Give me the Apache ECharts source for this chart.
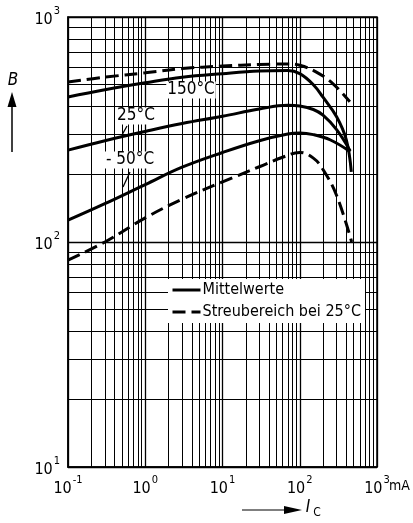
<!DOCTYPE html>
<html><head><meta charset="utf-8">
<script src="https://cdn.jsdelivr.net/npm/echarts@6/dist/echarts.min.js"></script>
<style>html,body{margin:0;padding:0;background:#fff}#c{width:413px;height:523px}</style>
</head><body><div id="c"></div>
<script>
// Collector current I_C in mA, DC current gain B
const xTicks = [0.1, 1, 10, 100, 1000];
const yTicks = [10, 100, 1000];
const current150 = [0.1, 0.3, 1, 3, 10, 30, 70, 100, 150, 200, 300, 400, 465];
const gain150    = [441, 475, 510, 540, 560, 575, 578, 560, 500, 440, 360, 285, 205];
const current25  = [0.1, 0.3, 1, 3, 10, 30, 70, 100, 150, 200, 300, 450];
const gain25     = [256, 282, 310, 336, 362, 390, 405, 402, 388, 366, 316, 254];
const currentM50 = [0.1, 0.3, 1, 3, 10, 30, 70, 100, 150, 250, 450];
const gainM50    = [125, 148, 180, 215, 250, 282, 302, 305, 300, 284, 252];
const currentUpper = [0.1, 0.3, 1, 3, 10, 30, 70, 100, 160, 270, 445];
const gainUpper    = [514, 540, 565, 590, 605, 615, 618, 610, 572, 505, 420];
const currentLower = [0.1, 0.3, 1, 3, 10, 30, 60, 100, 150, 200, 300, 470];
const gainLower    = [83, 100, 128, 155, 185, 216, 238, 250, 236, 210, 161, 100];
const seriesNames = ['Mittelwerte', 'Streubereich bei 25°C'];
const curveLabels = ['150°C', '25°C', '- 50°C'];

const FONT = '"Liberation Sans Narrow", "DejaVu Sans Condensed", "Noto Sans", sans-serif';
const zip = (xs, ys) => xs.map((x, i) => [x, ys[i]]);
const supFmt = v => {
  const e = Math.round(Math.log10(v));
  return '{b|10}{s|' + e + '}';
};
const richLab = {
  b: {fontSize: 16, fontFamily: FONT, color: '#000', lineHeight: 22, verticalAlign: 'bottom'},
  s: {fontSize: 11, fontFamily: FONT, color: '#000', lineHeight: 22, verticalAlign: 'top', padding: [0, 0, 0, 1]}
};
const solid = {color: '#000', width: 3, type: 'solid'};
const dashed = {color: '#000', width: 3, type: [13, 6]};
function mk(name, xs, ys, ls) {
  return {name, type: 'line', data: zip(xs, ys), smooth: 0.4, symbol: 'none', showSymbol: false,
    lineStyle: ls, itemStyle: {color: '#000'}, z: 5, silent: true};
}

const chart = echarts.init(document.getElementById('c'), null, {renderer: 'canvas'});
const txt = (t, x, y, size, extra) => Object.assign({type: 'text', x, y, z: 10,
  style: Object.assign({text: t, font: size + 'px ' + FONT, fill: '#000',
    align: 'center', verticalAlign: 'middle', textAlign: 'center', textVerticalAlign: 'middle'}, extra || {})});
chart.setOption({
  animation: false,
  backgroundColor: '#fff',
  grid: {left: 68, right: 36, top: 17, bottom: 56, show: true, borderColor: '#000', borderWidth: 1.5, backgroundColor: 'transparent'},
  xAxis: {type: 'log', logBase: 10, min: xTicks[0], max: xTicks[xTicks.length - 1],
    axisLine: {show: true, lineStyle: {color: '#000', width: 1.5}},
    axisTick: {show: false},
    axisLabel: {formatter: supFmt, rich: richLab, margin: 8},
    splitLine: {show: true, lineStyle: {color: '#000', width: 1.3}},
    minorTick: {show: false, splitNumber: 9},
    minorSplitLine: {show: true, lineStyle: {color: '#000', width: 1}}},
  yAxis: {type: 'log', logBase: 10, min: yTicks[0], max: yTicks[yTicks.length - 1],
    axisLine: {show: true, lineStyle: {color: '#000', width: 1.5}},
    axisTick: {show: false},
    axisLabel: {formatter: supFmt, rich: richLab, margin: 8},
    splitLine: {show: true, lineStyle: {color: '#000', width: 1.3}},
    minorTick: {show: false, splitNumber: 9},
    minorSplitLine: {show: true, lineStyle: {color: '#000', width: 1}}},
  legend: {orient: 'vertical', left: 168, top: 279, data: seriesNames,
    itemWidth: 28, itemHeight: 12, itemGap: 6, backgroundColor: '#fff',
    padding: [3, 4, 3, 3], selectedMode: false,
    itemStyle: {opacity: 0},
    lineStyle: {width: 3},
    textStyle: {fontFamily: FONT, fontSize: 16, color: '#000', padding: [0, 0, 0, -3]}},
  series: [
    mk(seriesNames[0], current150, gain150, solid),
    mk(seriesNames[0], current25, gain25, solid),
    mk(seriesNames[0], currentM50, gainM50, solid),
    mk(seriesNames[1], currentUpper, gainUpper, dashed),
    mk(seriesNames[1], currentLower, gainLower, dashed)
  ],
  graphic: [
    txt(curveLabels[0], 191, 90, 17, {backgroundColor: '#fff', padding: [0, 1]}),
    txt(curveLabels[1], 136, 116, 17, {backgroundColor: '#fff', padding: [0, 1]}),
    txt(curveLabels[2], 130, 160, 17, {backgroundColor: '#fff', padding: [0, 1]}),
    {type: 'line', z: 10, shape: {x1: 127, y1: 126, x2: 122, y2: 135}, style: {stroke: '#000', lineWidth: 1.3}},
    {type: 'line', z: 10, shape: {x1: 130, y1: 172, x2: 123, y2: 187}, style: {stroke: '#000', lineWidth: 1.3}},
    txt('B', 13, 81, 17, {font: 'italic 17px ' + FONT}),
    {type: 'line', shape: {x1: 12, y1: 152, x2: 12, y2: 104}, style: {stroke: '#000', lineWidth: 1.5}},
    {type: 'polygon', shape: {points: [[12, 92], [7.5, 107], [16.5, 107]]}, style: {fill: '#000'}},
    {type: 'line', shape: {x1: 242, y1: 510, x2: 288, y2: 510}, style: {stroke: '#000', lineWidth: 1.2}},
    {type: 'polygon', shape: {points: [[302, 510], [284, 506], [284, 514]]}, style: {fill: '#000'}},
    txt('I', 308, 508, 17, {font: 'italic 17px ' + FONT}),
    txt('C', 317, 513, 12),
    txt('mA', 389, 486, 14, {align: 'left', textAlign: 'left'})
  ]
});
</script></body></html>
